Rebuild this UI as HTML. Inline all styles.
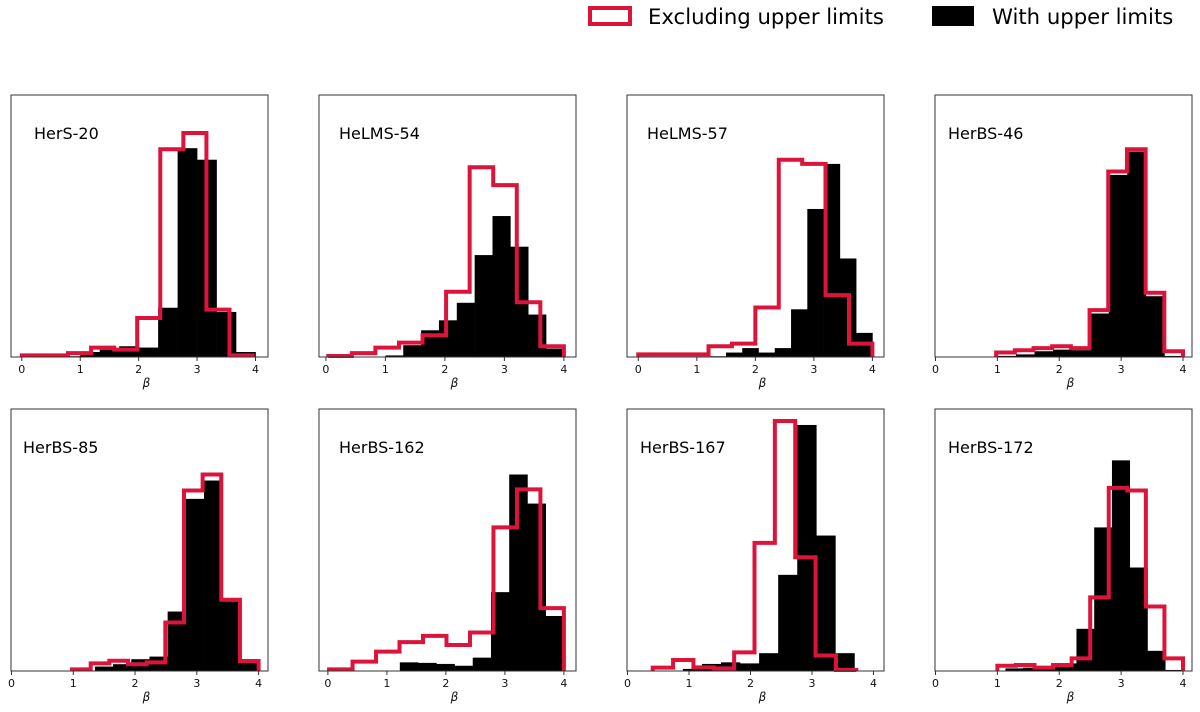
<!DOCTYPE html>
<html><head><meta charset="utf-8"><style>
html,body{margin:0;padding:0;background:#fff;}
svg{display:block;font-family:"DejaVu Sans","Liberation Sans",sans-serif;}
</style></head><body>
<svg id="fig" width="1200" height="712" viewBox="0 0 1200 712">
<g>
<rect x="590" y="8" width="40" height="16" fill="none" stroke="#dc143c" stroke-width="4"/>
<text x="648" y="24" font-size="21.2">Excluding upper limits</text>
<rect x="932" y="6" width="42" height="20" fill="#000"/>
<text x="992" y="24" font-size="21.2">With upper limits</text>
</g>
</svg>
<script>
const titles=["HerS-20","HeLMS-54","HeLMS-57","HerBS-46","HerBS-85","HerBS-162","HerBS-167","HerBS-172"];
const redX0=[0,0.04,0,0.98,0.98,0.02,0.41,1.0];
const redX1=[3.95,4,4,4,4,4,3.72,4];
const redH=[
[0.6,0.6,1.5,3.6,2.8,14.9,79.3,85.5,18.1,0.6],
[0.4,1.5,3.6,5.5,8.3,24.9,72.4,65.6,20.9,4.1],
[1.0,1.0,1.0,4.1,5.1,18.9,75.3,73.7,23.6,5.1],
[1.7,2.6,3.4,4.1,3.4,17.9,70.8,79.3,24.5,2.2],
[0.6,2.9,3.9,2.6,3.3,18.5,68.9,75.0,27.2,3.8],
[0.6,3.6,7.4,11.0,13.4,9.9,14.7,54.8,69.3,24.0],
[1.3,4.2,1.4,1.0,7.1,48.9,95.4,43.4,5.9,0.4],
[2.0,2.3,1.3,2.3,4.8,28.1,69.9,68.9,24.6,4.8]];
const blackX0=[0,1.0,1.22,1.0,1.35,0.91,0.9,1.13];
const blackX1=[4,4,4,4,4,4,4,4];
const blackH=[
[0,0,0.3,1.9,2.8,4.1,3.6,18.8,79.7,75.3,17.2,1.9],
[0.6,4.5,10.2,14.0,20.7,38.9,53.8,42.1,16.2,3.2],
[0.3,1.7,3.4,1.7,3.4,18.2,56.5,73.7,37.6,9.2],
[0.4,1.0,2.2,2.8,2.6,16.6,69.5,78.4,23.2,0.4],
[1.7,2.6,4.5,5.5,22.7,65.7,72.7,26.5,3.8],
[0.1,3.3,3.1,2.7,2.0,5.1,30.1,75.0,63.9,21.0],
[0.8,2.7,3.3,2.9,6.8,36.7,93.9,51.7,6.8,0.1],
[1.0,1.3,1.5,2.9,16.1,54.8,80.4,39.5,7.7,0.4]];
const xTicks=[0,1,2,3,4];

const NS="http://www.w3.org/2000/svg";
const svg=document.getElementById('fig');
const frameL=[11,319,627,935,11,319,627,935];
const frameT=[95,95,95,95,409,409,409,409];
const zeroPx=[21.8,325.9,638.3,935.5,11.5,327.9,627.5,935.5];
const fourPx=[255.5,563.9,872.4,1183,258.6,563.9,873.5,1183];
const W=257,H=262;
function mk(tag,attrs,parent){const e=document.createElementNS(NS,tag);for(const k in attrs)e.setAttribute(k,attrs[k]);(parent||svg).appendChild(e);return e;}
for(let p=0;p<8;p++){
  const g=mk('g',{});
  
  
  const L=frameL[p],T=frameT[p],B=T+H;
  const unit=(fourPx[p]-zeroPx[p])/4;
  const xs=v=>zeroPx[p]+v*unit;
  const ys=v=>B-v/100*H;
  const bw=(blackX1[p]-blackX0[p])/blackH[p].length;
  blackH[p].forEach((h,i)=>{
    if(h<=0)return;
    const x=xs(blackX0[p]+i*bw),x2=xs(blackX0[p]+(i+1)*bw);
    const r=mk('rect',{x:x,y:ys(h),width:x2-x+0.3,height:B-ys(h),fill:'#000'},g);
    
    
  });
  const rw=(redX1[p]-redX0[p])/redH[p].length;
  let d='M'+xs(redX0[p])+','+B;
  redH[p].forEach((h,i)=>{
    d+=' L'+xs(redX0[p]+i*rw)+','+ys(h)+' L'+xs(redX0[p]+(i+1)*rw)+','+ys(h);
  });
  d+=' L'+xs(redX1[p])+','+B;
  const path=mk('path',{d:d,fill:'none',stroke:'#dc143c','stroke-width':4,'stroke-linejoin':'miter'},g);
  
  
  const fr=mk('rect',{x:L,y:T,width:W,height:H,fill:'none',stroke:'#333','stroke-width':1},g);
  
  
  xTicks.forEach(t=>{
    const x=xs(t);
    const tk=mk('line',{x1:x,x2:x,y1:B,y2:B+4,stroke:'#333','stroke-width':1},g);
    
    
    const tl=mk('text',{x:x,y:B+16,'font-size':11,'text-anchor':'middle',fill:'#111'},g);
    tl.textContent=t;
    
    
  });
  const xl=mk('text',{x:L+W/2+7,y:B+30,'font-size':12,'font-style':'italic','text-anchor':'middle',fill:'#111'},g);
  xl.textContent='β';
  
  
  const tt=mk('text',{x:L+(p===4?12:(p===6||p===3||p===7?13:(p===0?23:20))),y:T+44,'font-size':16,fill:'#000'},g);
  tt.textContent=titles[p];
  
  
}
</script>
</body></html>
